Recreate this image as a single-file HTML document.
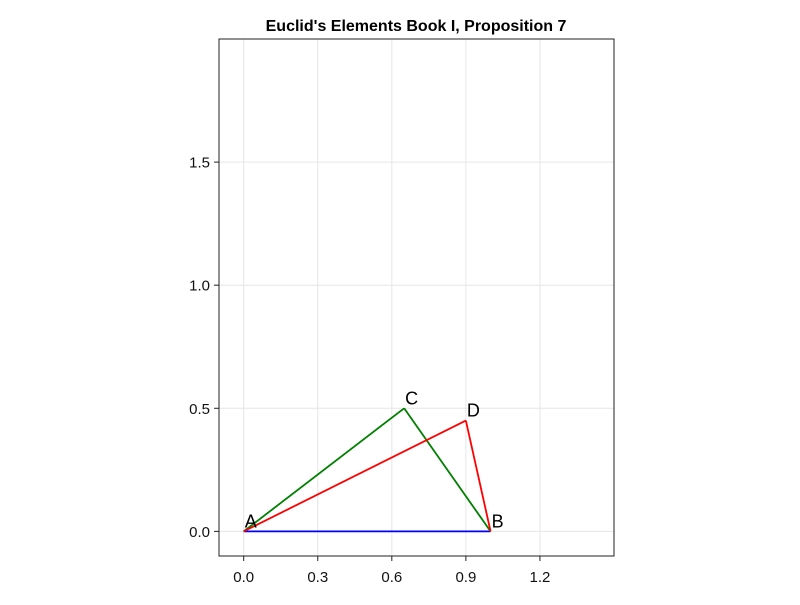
<!DOCTYPE html>
<html><head><meta charset="utf-8"><style>
body{margin:0;background:#fff;}
svg text{font-family:"Liberation Sans",sans-serif;}
</style></head><body>
<svg id="chart" width="800" height="600" xmlns="http://www.w3.org/2000/svg">
<text x="416" y="31" text-anchor="middle" font-size="16" font-weight="bold">Euclid's Elements Book I, Proposition 7</text>
<g id="grid"></g>
<g id="marks"></g>
<rect x="219" y="39" width="395" height="517" fill="none" stroke="#222" stroke-width="1"/>
<g id="axes"></g>
</svg>
<script>
const xTicks=[0,0.3,0.6,0.9,1.2];
const xTickLabels=["0.0","0.3","0.6","0.9","1.2"];
const yTicks=[0,0.5,1.0,1.5];
const yTickLabels=["0.0","0.5","1.0","1.5"];
const pointNames=["A","B","C","D"];
const pointX=[0,1,0.65,0.9];
const pointY=[0,0,0.5,0.45];
const segFrom=["A","A","C","A","D"];
const segTo=["B","C","B","D","B"];
const segColor=["blue","green","green","red","red"];

const X0=-0.1,X1=1.5,Y0=-0.1,Y1=2.0;
const L=219,R=614,T=39,B=556;
const sx=v=>L+(v-X0)/(X1-X0)*(R-L);
const sy=v=>B-(v-Y0)/(Y1-Y0)*(B-T);
const NS="http://www.w3.org/2000/svg";
function mk(tag,attrs,parent){const e=document.createElementNS(NS,tag);for(const k in attrs)e.setAttribute(k,attrs[k]);parent.appendChild(e);return e;}
const grid=document.getElementById('grid'),axes=document.getElementById('axes'),marks=document.getElementById('marks');
xTicks.forEach((t,i)=>{
  const g=mk('line',{x1:sx(t),x2:sx(t),y1:T,y2:B,stroke:'#e6e6e6','stroke-width':1},grid);
  
  
  const tk=mk('line',{x1:sx(t),x2:sx(t),y1:B,y2:B+5,stroke:'#222'},axes);
  
  
  const tx=mk('text',{x:sx(t),y:B+26,'text-anchor':'middle','font-size':15,fill:'#111'},axes);
  tx.textContent=xTickLabels[i];
  
  
});
yTicks.forEach((t,i)=>{
  const g=mk('line',{x1:L,x2:R,y1:sy(t),y2:sy(t),stroke:'#e6e6e6','stroke-width':1},grid);
  
  
  const tk=mk('line',{x1:L-5,x2:L,y1:sy(t),y2:sy(t),stroke:'#222'},axes);
  
  
  const tx=mk('text',{x:L-9,y:sy(t)+5.5,'text-anchor':'end','font-size':15,fill:'#111'},axes);
  tx.textContent=yTickLabels[i];
  
  
});
const idx=n=>pointNames.indexOf(n);
segFrom.forEach((f,i)=>{
  const a=idx(f),b=idx(segTo[i]);
  const ln=mk('line',{x1:sx(pointX[a]),y1:sy(pointY[a]),x2:sx(pointX[b]),y2:sy(pointY[b]),stroke:segColor[i],'stroke-width':1.8},marks);
  
  
});
pointNames.forEach((n,i)=>{
  const t=mk('text',{x:sx(pointX[i])+1,y:sy(pointY[i])-4,'font-size':18,fill:'#000'},marks);
  t.textContent=n;
  
  
});
</script>
</body></html>
